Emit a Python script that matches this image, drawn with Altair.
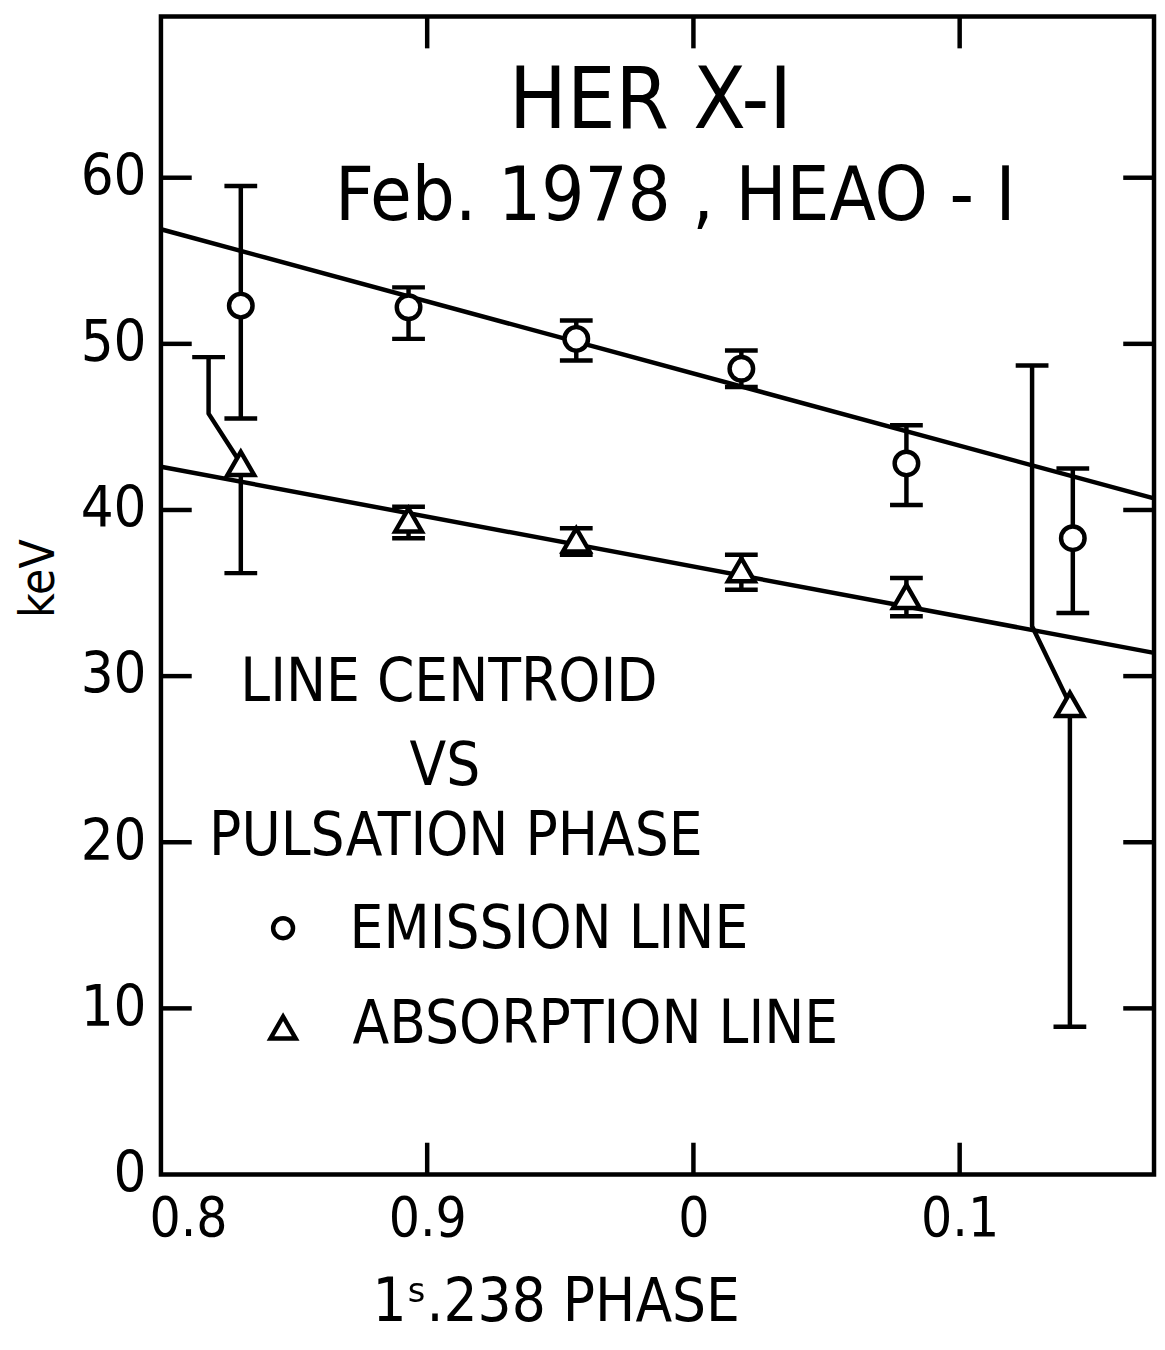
import altair as alt
import pandas as pd

# ---- data ----
phase_em = [0.830, 0.893, 0.956, 1.018, 1.080, 1.1425]
kev_em = [52.3, 52.2, 50.3, 48.5, 42.8, 38.3]
em_lo = [45.5, 50.3, 49.0, 47.4, 40.3, 33.8]
em_hi = [59.5, 53.4, 51.4, 49.6, 45.1, 42.5]

phase_ab = [0.830, 0.893, 0.956, 1.018, 1.080, 1.1414]
kev_ab = [42.8, 39.4, 38.2, 36.4, 34.8, 28.3]
ab_lo = [36.2, 38.3, 37.3, 35.2, 33.6, 8.9]
ab_hi = [49.2, 40.2, 38.9, 37.3, 35.9, 48.7]
# upper error bars of first/last absorption points are drawn displaced
ab_hi_phase = [0.8179, 0.893, 0.956, 1.018, 1.080, 1.1272]
ab_bend = [45.8, 39.4, 38.2, 36.4, 34.8, 33.0]

fit_phase = [0.8, 1.173]
em_fit = [56.9, 40.7]
ab_fit = [42.6, 31.4]

x_ticks = [0.8, 0.9, 1.0, 1.1]
x_tick_labels = ["0.8", "0.9", "0", "0.1"]
y_ticks = [0, 10, 20, 30, 40, 50, 60]
inner_y_ticks = [10, 20, 30, 40, 50, 60]
inner_x_ticks = [0.9, 1.0, 1.1]

FONT = "Liberation Sans Narrow, DejaVu Sans Condensed, Liberation Sans, sans-serif"
W, H = 1000, 1166
LW = 4.5

xs = alt.Scale(domain=[0.8, 1.173], nice=False, zero=False)
ys = alt.Scale(domain=[0, 69.7], nice=False, zero=False)

label_expr = " : ".join(
    f"abs(datum.value - {v}) < 0.001 ? '{l}'" for v, l in zip(x_ticks, x_tick_labels)
) + " : ''"

X = alt.X("x:Q", scale=xs, axis=alt.Axis(
    values=x_ticks, labelExpr=label_expr, ticks=False, tickSize=0, domain=False,
    grid=False, title=None, labelFont=FONT, labelFontSize=55, labelPadding=18,
    labelColor="black", labelFlush=True, labelFlushOffset=12))
Y = alt.Y("y:Q", scale=ys, axis=alt.Axis(
    values=y_ticks, ticks=False, tickSize=0, domain=False, grid=False, title=None,
    labelFont=FONT, labelFontSize=58, labelPadding=15, labelColor="black"))

# fit lines
fit_df = pd.DataFrame({
    "x": fit_phase + fit_phase,
    "y": em_fit + ab_fit,
    "s": ["em", "em", "ab", "ab"],
})
fits = alt.Chart(fit_df).mark_line(color="black", strokeWidth=LW, clip=True).encode(
    x=X, y=Y, detail="s:N")

# emission error bars
em_df = pd.DataFrame({"x": phase_em, "y": kev_em, "lo": em_lo, "hi": em_hi})
em_bars = alt.Chart(em_df).mark_rule(color="black", strokeWidth=LW).encode(
    x=X, y=alt.Y("lo:Q", scale=ys), y2="hi:Q")

# absorption: lower bars
ab_df = pd.DataFrame({"x": phase_ab, "y": kev_ab, "lo": ab_lo})
ab_low = alt.Chart(ab_df).mark_rule(color="black", strokeWidth=LW).encode(
    x=X, y=alt.Y("lo:Q", scale=ys), y2="y:Q")

# absorption: upper bars as paths
rows = []
for i in range(len(phase_ab)):
    rows.append({"x": phase_ab[i], "y": kev_ab[i], "id": i, "o": 0})
    rows.append({"x": ab_hi_phase[i], "y": ab_bend[i], "id": i, "o": 1})
    rows.append({"x": ab_hi_phase[i], "y": ab_hi[i], "id": i, "o": 2})
ab_up = alt.Chart(pd.DataFrame(rows)).mark_line(
    color="black", strokeWidth=LW, strokeJoin="round").encode(
    x=X, y=Y, detail="id:N", order="o:Q")

# caps
cap_x = phase_em + phase_em + phase_ab + ab_hi_phase
cap_y = em_lo + em_hi + ab_lo + ab_hi
caps = alt.Chart(pd.DataFrame({"x": cap_x, "y": cap_y})).mark_tick(
    orient="horizontal", color="black", size=33, thickness=LW, opacity=1).encode(x=X, y=Y)

circles = alt.Chart(em_df).mark_point(
    shape="circle", size=560, filled=False, fill="white", fillOpacity=1,
    stroke="black", strokeWidth=LW, opacity=1).encode(x=X, y=Y)
tris = alt.Chart(ab_df).mark_point(
    shape="triangle-up", size=720, filled=False, fill="white", fillOpacity=1,
    stroke="black", strokeWidth=LW, opacity=1).encode(x=X, y=Y)

# inward ticks on all four sides
lt = pd.DataFrame({"y": inner_y_ticks})
bt = pd.DataFrame({"x": inner_x_ticks})
tick_left = alt.Chart(lt).mark_rule(color="black", strokeWidth=LW).encode(
    y=Y, x=alt.value(0), x2=alt.value(31))
tick_right = alt.Chart(lt).mark_rule(color="black", strokeWidth=LW).encode(
    y=Y, x=alt.value(W - 31), x2=alt.value(W))
tick_bottom = alt.Chart(bt).mark_rule(color="black", strokeWidth=LW).encode(
    x=X, y=alt.value(H), y2=alt.value(H - 32))
tick_top = alt.Chart(bt).mark_rule(color="black", strokeWidth=LW).encode(
    x=X, y=alt.value(0), y2=alt.value(32))


def label(text, x, y, size, align="center", angle=0):
    return alt.Chart(pd.DataFrame({"t": [text]})).mark_text(
        font=FONT, fontSize=size, align=align, baseline="middle", color="black",
        angle=angle).encode(text="t:N", x=alt.value(x), y=alt.value(y))


texts = [
    label("HER X-I", 493, 86, 86),
    label("Feb. 1978 , HEAO - I", 518, 182, 76),
    label("LINE CENTROID", 290, 671, 60),
    label("VS", 286, 756, 60),
    label("PULSATION PHASE", 297, 826, 60),
    label("EMISSION LINE", 190, 920, 60, align="left"),
    label("ABSORPTION LINE", 193, 1016, 60, align="left"),
    label("keV", -122, 566, 48, angle=270),
    label("1ˢ.238 PHASE", 398, 1296, 60),
]

leg = pd.DataFrame({"k": [0]})
leg_c = alt.Chart(leg).mark_point(
    shape="circle", size=400, filled=False, fill="white", fillOpacity=1,
    stroke="black", strokeWidth=LW, opacity=1).encode(x=alt.value(123), y=alt.value(918))
leg_t = alt.Chart(leg).mark_point(
    shape="triangle-up", size=640, filled=False, fill="white", fillOpacity=1,
    stroke="black", strokeWidth=LW, opacity=1).encode(x=alt.value(123), y=alt.value(1018))

chart = alt.layer(
    fits, em_bars, ab_low, ab_up, caps, circles, tris,
    tick_left, tick_right, tick_bottom, tick_top,
    leg_c, leg_t, *texts
).properties(
    width=W, height=H,
    background="white",
    autosize=alt.AutoSizeParams(type="none"),
    padding={"left": 154, "top": 4, "right": 3, "bottom": 160},
).configure_view(stroke="black", strokeWidth=4.5)

chart.save("out.html", embed_options={"renderer": "svg", "actions": False})
